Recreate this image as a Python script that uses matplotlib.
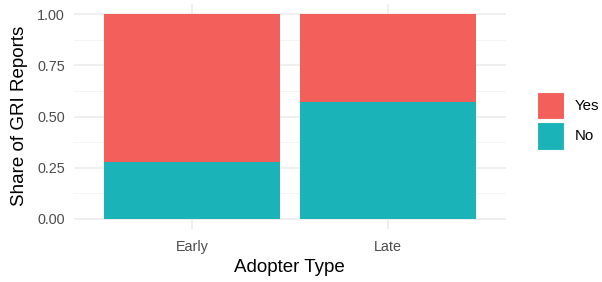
import matplotlib
matplotlib.use("Agg")
import matplotlib.pyplot as plt
from matplotlib.patches import Patch
import numpy as np

categories = ["Early", "Late"]
share_no = [0.28, 0.571]
share_yes = [0.72, 0.429]
legend_labels = ["Yes", "No"]
yticks = [0.0, 0.25, 0.5, 0.75, 1.0]
ytick_labels = ["0.00", "0.25", "0.50", "0.75", "1.00"]

col_yes = "#F35F5B"
col_no = "#1AB3B8"

plt.rcParams['font.family'] = ['Liberation Sans', 'DejaVu Sans']

W, H = 602, 282
fig = plt.figure(figsize=(W / 100, H / 100), dpi=100)
left, right, top, bottom = 74.4, 505.6, 3.75, 229.25
ax = fig.add_axes([left / W, 1 - bottom / H, (right - left) / W, (bottom - top) / H])

x = np.arange(len(categories)) + 1
ax.bar(x, share_no, width=0.9, color=col_no, zorder=2)
ax.bar(x, share_yes, width=0.9, bottom=share_no, color=col_yes, zorder=2)

ax.set_xlim(0.4, 2.6)
ax.set_ylim(-0.05, 1.05)
ax.set_xticks(x)
ax.set_xticklabels(categories)
ax.set_yticks(yticks)
ax.set_yticklabels(ytick_labels)
ax.set_yticks([0.125, 0.375, 0.625, 0.875], minor=True)

ax.grid(True, which='major', color='#EBEBEB', linewidth=1.1, zorder=0)
ax.grid(True, which='minor', axis='y', color='#F3F3F3', linewidth=0.6, zorder=0)
ax.set_axisbelow(True)
for s in ax.spines.values():
    s.set_visible(False)
ax.tick_params(axis='both', which='both', length=0, labelsize=10.4, labelcolor='#4D4D4D')
ax.tick_params(axis='y', pad=6.8)
ax.tick_params(axis='x', pad=7.5)

fig.text(20 / W, 1 - 116 / H, "Share of GRI Reports", rotation=90, ha='center', va='center', fontsize=13.5)
fig.text(289 / W, 1 - 267 / H, "Adopter Type", ha='center', va='center', fontsize=13.5)

handles = [Patch(facecolor=col_yes, edgecolor='white', linewidth=0.8),
           Patch(facecolor=col_no, edgecolor='white', linewidth=0.8)]
fig.legend(handles, legend_labels, loc='upper left', bbox_to_anchor=(536.5 / W, 1 - 91.5 / H),
           frameon=False, fontsize=10.8, handlelength=1.84, handleheight=2.45,
           labelspacing=0.2, handletextpad=0.72, borderpad=0, borderaxespad=0)

fig.savefig("out.png", dpi=100)
